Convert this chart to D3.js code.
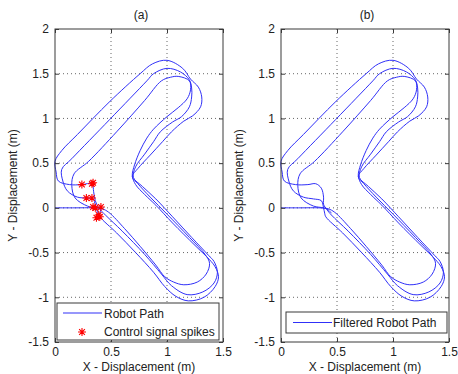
<!DOCTYPE html>
<html lang="en">
<head>
  <meta charset="UTF-8">
  <title>Robot path – raw and filtered</title>
  <script src="https://cdnjs.cloudflare.com/ajax/libs/d3/7.8.5/d3.min.js"></script>
  <style>
    body { margin: 0; padding: 0; background: #fff; }
    svg { display: block; font-family: Arial, "Liberation Sans", sans-serif; }
  </style>
</head>
<body>
<svg id="chart" width="458" height="374"></svg>

<script>
  // axis ticks
  const xTicks = [0, 0.5, 1, 1.5];
  const yTicks = [-1.5, -1, -0.5, 0, 0.5, 1, 1.5, 2];

  // start of the run
  const startRun = [[0, 0], [0.18, 0], [0.34, 0], [0.42, -0.01], [0.48, -0.05]];

  // loop 1: inner bottom, outer top
  const loop1 = [[0.62, -0.23], [0.76, -0.43], [0.9, -0.64], [0.98, -0.77], [1.06, -0.83],
    [1.15, -0.86], [1.27, -0.83], [1.35, -0.74], [1.38, -0.62], [1.34, -0.52],
    [1.2, -0.33], [1.0, -0.07], [0.85, 0.12], [0.74, 0.27], [0.69, 0.35],
    [0.74, 0.44], [0.85, 0.59], [0.96, 0.74], [1.04, 0.85], [1.15, 0.97], [1.23, 1.03],
    [1.3, 1.13], [1.31, 1.24], [1.28, 1.35], [1.21, 1.44], [1.14, 1.56], [1.0, 1.65],
    [0.87, 1.61], [0.76, 1.5], [0.49, 1.19], [0.2, 0.82], [0.06, 0.64], [0.0, 0.52],
    [0.01, 0.4], [0.03, 0.3], [0.13, 0.26], [0.24, 0.26]];

  // loop 2: middle
  const loop2 = [[0.45, -0.08], [0.6, -0.26], [0.8, -0.52], [0.95, -0.74], [1.04, -0.87],
    [1.18, -0.97], [1.32, -0.94], [1.42, -0.84], [1.45, -0.72], [1.42, -0.6], [1.37, -0.53],
    [1.22, -0.33], [1.05, -0.1], [0.9, 0.1], [0.78, 0.24], [0.7, 0.34],
    [0.72, 0.46], [0.8, 0.6], [0.88, 0.74], [0.94, 0.85], [1.05, 0.96], [1.13, 1.02],
    [1.2, 1.13], [1.22, 1.24], [1.22, 1.34], [1.2, 1.43], [1.12, 1.52], [1.0, 1.56],
    [0.88, 1.5], [0.82, 1.42], [0.49, 0.99], [0.15, 0.55], [0.06, 0.43], [0.07, 0.3],
    [0.11, 0.19], [0.2, 0.12]];

  // loop 3: outer bottom, inner top
  const loop3 = [[0.4, -0.1], [0.55, -0.28], [0.72, -0.5], [0.88, -0.72], [0.98, -0.88],
    [1.08, -0.99], [1.19, -1.04], [1.33, -1.0], [1.43, -0.88], [1.46, -0.77], [1.43, -0.66],
    [1.38, -0.58], [1.25, -0.42], [1.05, -0.17], [0.9, 0.03], [0.8, 0.15], [0.72, 0.26],
    [0.69, 0.36], [0.71, 0.48], [0.76, 0.64], [0.82, 0.78], [0.88, 0.88], [1.0, 1.02],
    [1.1, 1.12], [1.18, 1.22], [1.21, 1.32], [1.2, 1.42], [1.1, 1.47], [1.03, 1.46],
    [0.95, 1.42], [0.8, 1.2], [0.55, 0.85], [0.3, 0.52], [0.17, 0.38], [0.15, 0.25],
    [0.18, 0.11], [0.29, 0.02]];

  // joins between loops, raw run (a)
  const joinRaw12 = [[0.33, 0.27], [0.345, 0.18], [0.36, 0.08], [0.39, 0.0]];
  const joinRaw23 = [[0.29, 0.11], [0.34, 0.1], [0.36, 0.03], [0.38, -0.05]];
  const endRaw = [[0.36, 0.0], [0.41, 0.0], [0.4, -0.06], [0.39, -0.1], [0.38, -0.12]];

  // joins between loops, filtered run (b)
  const joinFilt12 = [[0.31, 0.27], [0.36, 0.22], [0.38, 0.12], [0.38, 0.04], [0.41, -0.02]];
  const joinFilt23 = [[0.29, 0.1], [0.36, 0.08], [0.38, 0.0], [0.39, -0.06]];
  const endFilt = [[0.38, 0.0], [0.42, -0.02], [0.45, -0.06]];

  // control signal spikes (a)
  const spikes = [[0.24, 0.26], [0.33, 0.27], [0.34, 0.28], [0.28, 0.11], [0.33, 0.11],
    [0.34, 0.01], [0.36, 0.0], [0.41, 0.01], [0.39, -0.08], [0.37, -0.11], [0.4, -0.1]];

  const rawPath = [].concat(startRun, loop1, joinRaw12, loop2, joinRaw23, loop3, endRaw);
  const filtPath = [].concat(startRun, loop1, joinFilt12, loop2, joinFilt23, loop3, endFilt);

  const svg = d3.select("#chart");
  const plotTop = 29, plotBottom = 342;
  const blue = "#3030f8", frame = "#3a3a3a";

  const panels = [
    { title: "(a)", left: 55, right: 223, path: rawPath, spikes: true },
    { title: "(b)", left: 281, right: 449, path: filtPath, spikes: false }
  ];

  function star(g, cx, cy, r) {
    const d = r * 0.72;
    g.append("path")
      .attr("d", `M${cx - r},${cy}H${cx + r}M${cx},${cy - r}V${cy + r}` +
                 `M${cx - d},${cy - d}L${cx + d},${cy + d}M${cx - d},${cy + d}L${cx + d},${cy - d}`)
      .attr("stroke", "#ff0000").attr("stroke-width", 1.1).attr("fill", "none");
  }

  panels.forEach(p => {
    const x = d3.scaleLinear().domain([0, 1.5]).range([p.left, p.right]);
    const y = d3.scaleLinear().domain([-1.5, 2]).range([plotBottom, plotTop]);
    const g = svg.append("g");

    g.append("rect")
      .attr("x", p.left).attr("y", plotTop)
      .attr("width", p.right - p.left).attr("height", plotBottom - plotTop)
      .attr("fill", "#fff");

    // dotted grid
    xTicks.slice(1, -1).forEach(t => {
      g.append("line").attr("x1", x(t)).attr("x2", x(t)).attr("y1", plotTop).attr("y2", plotBottom)
        .attr("stroke", "#666").attr("stroke-dasharray", "1,3");
    });
    yTicks.slice(1, -1).forEach(t => {
      g.append("line").attr("x1", p.left).attr("x2", p.right).attr("y1", y(t)).attr("y2", y(t))
        .attr("stroke", "#666").attr("stroke-dasharray", "1,3");
    });

    // robot path
    const line = d3.line().x(d => x(d[0])).y(d => y(d[1])).curve(d3.curveCatmullRom.alpha(0.5));
    g.append("path").attr("d", line(p.path))
      .attr("fill", "none").attr("stroke", blue).attr("stroke-width", 1);

    if (p.spikes) spikes.forEach(s => star(g, x(s[0]), y(s[1]), 4));

    // axes (ticks inside, box on)
    g.append("g").attr("transform", `translate(0,${plotBottom})`)
      .call(d3.axisBottom(x).tickValues(xTicks).tickSize(-4).tickPadding(5).tickFormat(d3.format("")));
    const ay = g.append("g").attr("transform", `translate(${p.left},0)`)
      .call(d3.axisLeft(y).tickValues(yTicks).tickSize(-4).tickPadding(6).tickFormat(d3.format("")));
    g.append("g").attr("transform", `translate(0,${plotTop})`)
      .call(d3.axisTop(x).tickValues(xTicks).tickSize(-4).tickFormat(""));
    g.append("g").attr("transform", `translate(${p.right},0)`)
      .call(d3.axisRight(y).tickValues(yTicks).tickSize(-4).tickFormat(""));
    g.selectAll(".domain").remove();
    g.selectAll(".tick line").attr("stroke", frame);
    g.selectAll(".tick text").attr("font-size", 12).attr("fill", "#222")
      .attr("font-family", "Arial, 'Liberation Sans', sans-serif");
    ay.selectAll(".tick text").text(d => d < 0 ? "-" + Math.abs(d) : d);

    g.append("rect")
      .attr("x", p.left).attr("y", plotTop)
      .attr("width", p.right - p.left).attr("height", plotBottom - plotTop)
      .attr("fill", "none").attr("stroke", frame).attr("stroke-width", 1);

    // labels
    const mid = (p.left + p.right) / 2;
    g.append("text").attr("x", mid + 2).attr("y", 19).attr("text-anchor", "middle")
      .attr("font-size", 12).attr("fill", "#222").text(p.title);
    g.append("text").attr("x", mid).attr("y", 371).attr("text-anchor", "middle")
      .attr("font-size", 12).attr("fill", "#222").text("X - Displacement (m)");
    g.append("text")
      .attr("transform", `translate(${p.left - 38},${(plotTop + plotBottom) / 2}) rotate(-90)`)
      .attr("text-anchor", "middle").attr("font-size", 12).attr("fill", "#222")
      .text("Y - Displacement (m)");

    // legend
    const lg = g.append("g");
    if (p.spikes) {
      lg.append("rect").attr("x", 57).attr("y", 303).attr("width", 162).attr("height", 37)
        .attr("fill", "#fff").attr("stroke", frame);
      lg.append("line").attr("x1", 63).attr("x2", 102).attr("y1", 313).attr("y2", 313)
        .attr("stroke", blue).attr("stroke-width", 1.2);
      lg.append("text").attr("x", 104).attr("y", 317.5).attr("font-size", 12).attr("fill", "#222")
        .text("Robot Path");
      star(lg, 82, 332, 4);
      lg.append("text").attr("x", 104).attr("y", 336).attr("font-size", 12).attr("fill", "#222")
        .text("Control signal spikes");
    } else {
      lg.append("rect").attr("x", 286).attr("y", 312).attr("width", 161).attr("height", 21)
        .attr("fill", "#fff").attr("stroke", frame);
      lg.append("line").attr("x1", 293).attr("x2", 332).attr("y1", 322.5).attr("y2", 322.5)
        .attr("stroke", blue).attr("stroke-width", 1.2);
      lg.append("text").attr("x", 333).attr("y", 327).attr("font-size", 12).attr("fill", "#222")
        .text("Filtered Robot Path");
    }
  });
</script>
</body>
</html>
